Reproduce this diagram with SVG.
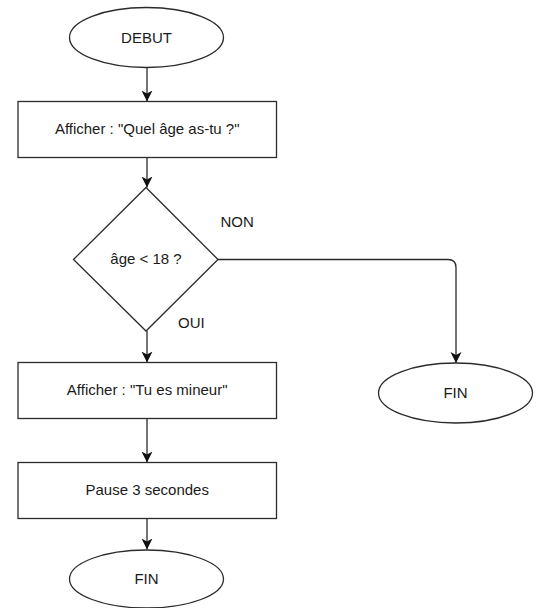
<svg xmlns="http://www.w3.org/2000/svg" width="541" height="608" viewBox="0 0 541 608">
<style>
.shape{fill:#ffffff;stroke:#2b2b2b;stroke-width:1.3}
.edge{fill:none;stroke:#2b2b2b;stroke-width:1.3}
text{font-family:"Liberation Sans",Arial,sans-serif;font-size:15px;fill:#1a1a1a}
.c{text-anchor:middle}
</style>
<defs>
<marker id="arr" markerUnits="userSpaceOnUse" markerWidth="12" markerHeight="12" refX="11" refY="5.5" orient="auto">
<path d="M0,0 L11,5.5 L0,11 L3,5.5 Z" fill="#111111"/>
</marker>
</defs>
<rect width="541" height="608" fill="#ffffff"/>
<g id="connectors">
<path class="edge" d="M147,68 L147,101.5" marker-end="url(#arr)"/>
<path class="edge" d="M147,157.5 L147,187.5" marker-end="url(#arr)"/>
<path class="edge" d="M147,331 L147,362.5" marker-end="url(#arr)"/>
<path class="edge" d="M147,418.5 L147,462.5" marker-end="url(#arr)"/>
<path class="edge" d="M147,518.5 L147,549.5" marker-end="url(#arr)"/>
<path class="edge" d="M218,259.5 L448,259.5 Q456,259.5 456,267.5 L456,363" marker-end="url(#arr)"/>
<text x="220.5" y="227">NON</text>
<text x="178" y="328">OUI</text>
</g>
<g id="debut">
<ellipse class="shape" cx="146.5" cy="37.5" rx="77" ry="30"/>
<text class="c" x="146.5" y="42.5">DEBUT</text>
</g>
<g id="afficher-question">
<rect class="shape" x="18" y="101.5" width="258.5" height="56"/>
<text class="c" x="147.2" y="134">Afficher : "Quel âge as-tu ?"</text>
</g>
<g id="decision">
<polygon class="shape" points="146,187.5 218,259.5 146,331 73.5,259.5"/>
<text class="c" x="146" y="263.5">âge &lt; 18 ?</text>
</g>
<g id="afficher-mineur">
<rect class="shape" x="18" y="362.5" width="258.5" height="56"/>
<text class="c" x="147.2" y="394.5">Afficher : "Tu es mineur"</text>
</g>
<g id="pause">
<rect class="shape" x="18" y="462.5" width="258.5" height="56"/>
<text class="c" x="147.2" y="494.5">Pause 3 secondes</text>
</g>
<g id="fin-bas">
<ellipse class="shape" cx="146.5" cy="579" rx="77" ry="29"/>
<text class="c" x="146.5" y="583.5">FIN</text>
</g>
<g id="fin-droite">
<ellipse class="shape" cx="455.5" cy="393" rx="77" ry="30"/>
<text class="c" x="455.5" y="398">FIN</text>
</g>
</svg>
